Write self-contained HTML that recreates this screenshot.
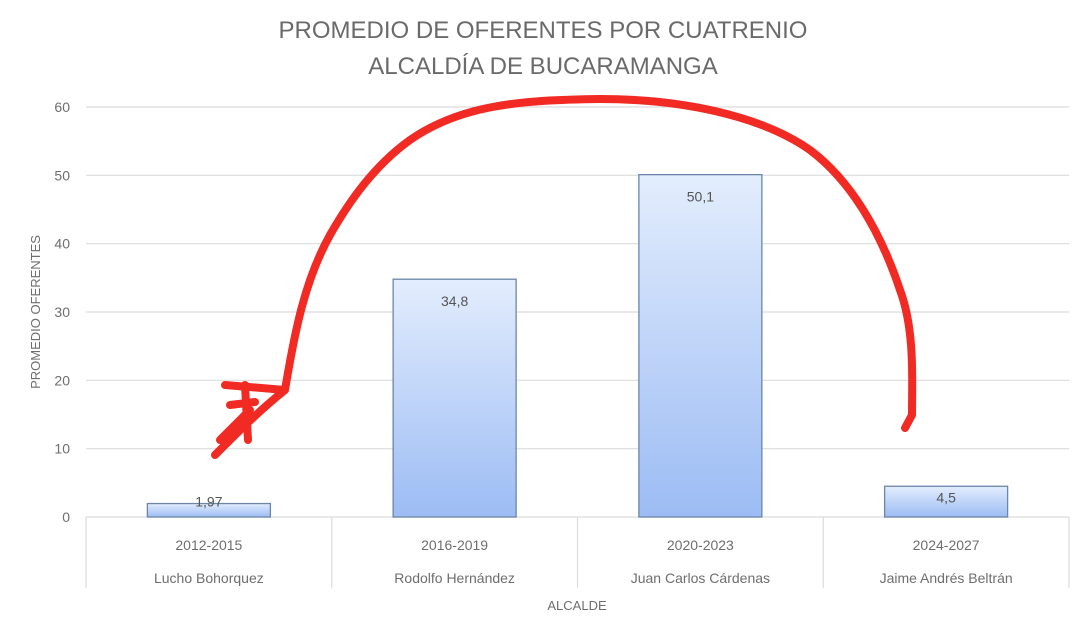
<!DOCTYPE html>
<html><head><meta charset="utf-8">
<style>
html,body{margin:0;padding:0;background:#fff;}
svg{display:block;font-family:"Liberation Sans",sans-serif;}
</style></head>
<body>
<svg id="chart" width="1090" height="636" viewBox="0 0 1090 636">
<defs>
<linearGradient id="bg" x1="0" y1="0" x2="0" y2="1">
<stop offset="0" stop-color="#e3edfd"/><stop offset="1" stop-color="#9cbcf4"/>
</linearGradient>
</defs>
<text x="543" y="38" text-anchor="middle" font-size="24" fill="#6a6a6a">PROMEDIO DE OFERENTES POR CUATRENIO</text>
<text x="543" y="74" text-anchor="middle" font-size="24" fill="#6a6a6a">ALCALDÍA DE BUCARAMANGA</text>
<text transform="translate(40,312) rotate(-90)" text-anchor="middle" font-size="13" fill="#6e6e6e">PROMEDIO OFERENTES</text>
<text x="577" y="610" text-anchor="middle" font-size="13" fill="#6e6e6e">ALCALDE</text>
<g id="grid"></g><g id="bars"></g><g id="xaxis"></g>
<path d="M215,455 C240,430 260,410 285,390 C295,330 305,280 330,235 C350,200 375,165 410,140 C460,105 520,100 600,99 C680,99 760,115 810,150 C850,180 880,230 900,290 C915,330 912,380 912,415 L905,428 M220,440 L250,410 M225,385 L285,390 M230,405 L255,402 M245,385 L248,440" fill="none" stroke="#f22a24" stroke-width="8" stroke-linecap="round" stroke-linejoin="round"/>
</svg>
<script>
const categories=["2012-2015","2016-2019","2020-2023","2024-2027"];
const mayors=["Lucho Bohorquez","Rodolfo Hernández","Juan Carlos Cárdenas","Jaime Andrés Beltrán"];
const values=[1.97,34.8,50.1,4.5];
const labels=["1,97","34,8","50,1","4,5"];
const yTicks=[0,10,20,30,40,50,60];
const NS="http://www.w3.org/2000/svg";
const x0=86,x1=1069,y0=517,yTop=107,yMax=60;
const y=v=>y0-(v/yMax)*(y0-yTop);
const bw=(x1-x0)/categories.length;
function mk(tag,attrs,parent,text){const e=document.createElementNS(NS,tag);for(const k in attrs)e.setAttribute(k,attrs[k]);if(text!==undefined)e.textContent=text;parent.appendChild(e);return e;}
const grid=document.getElementById('grid'),bars=document.getElementById('bars'),xa=document.getElementById('xaxis');
yTicks.forEach(t=>{
  const l=mk('line',{x1:x0,x2:x1,y1:y(t),y2:y(t),stroke:'#dcdcdc','stroke-width':1.2},grid);
  
  
  const tx=mk('text',{x:70,y:y(t)+5,'text-anchor':'end','font-size':14,fill:'#6e6e6e'},grid,String(t));
  
  
});
for(let i=0;i<=categories.length;i++){
  const l=mk('line',{x1:x0+i*bw,x2:x0+i*bw,y1:y0,y2:588,stroke:'#dcdcdc','stroke-width':1.2},xa);
  
  
}
categories.forEach((c,i)=>{
  const cx=x0+bw*(i+0.5),w=123;
  const r=mk('rect',{x:cx-w/2,y:y(values[i]),width:w,height:y0-y(values[i]),fill:'url(#bg)',stroke:'#6b86a8','stroke-width':1.3},bars);
  
  
  const lt=mk('text',{x:cx,y:0,'text-anchor':'middle','font-size':14,fill:'#555'},bars,labels[i]);
  if(values[i]>10) lt.setAttribute('y',y(values[i])+27); else lt.setAttribute('y',y(values[i])+(values[i]<3?3:16));
  
  
  const t1=mk('text',{x:cx,y:550,'text-anchor':'middle','font-size':14,fill:'#6e6e6e'},xa,c);
  
  
  const t2=mk('text',{x:cx,y:583,'text-anchor':'middle','font-size':14,fill:'#6e6e6e'},xa,mayors[i]);
  
  
});
</script>
</body></html>
